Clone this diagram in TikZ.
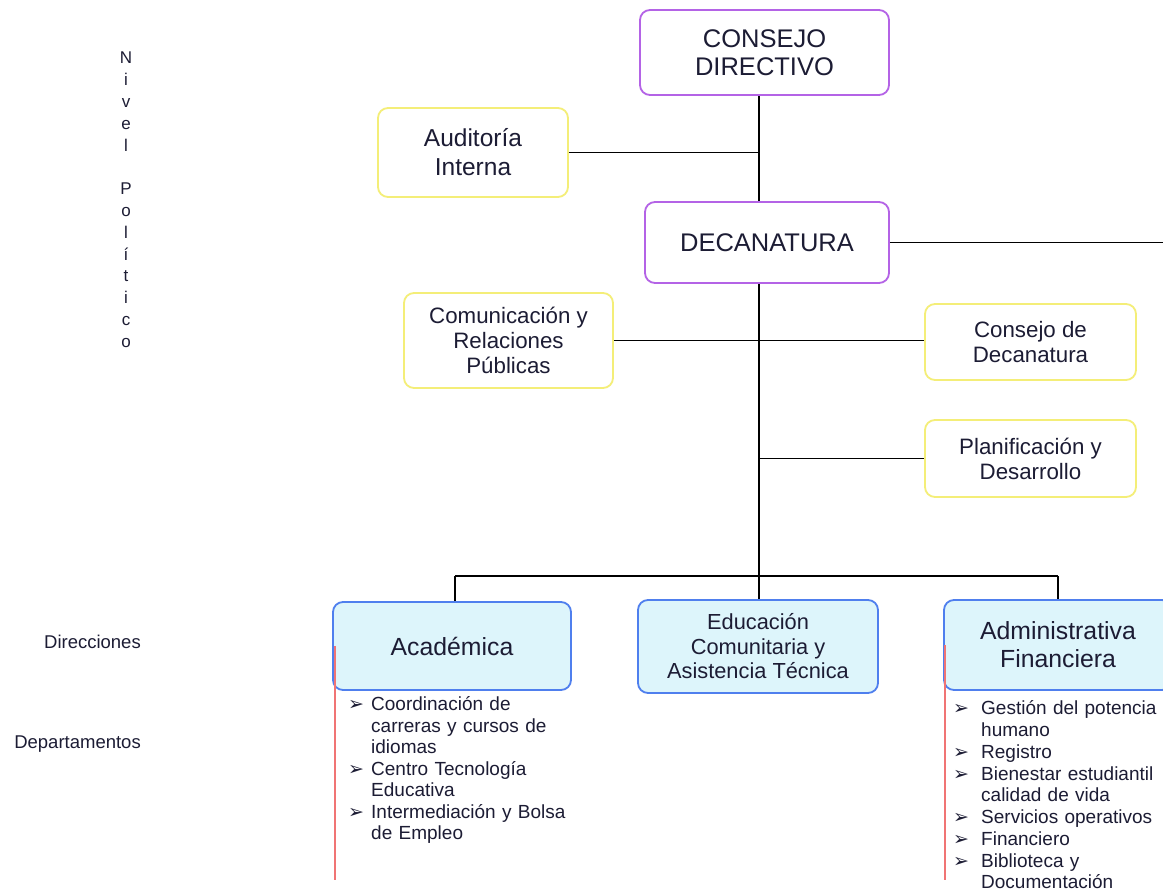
\documentclass[tikz,border=0pt]{standalone}
\usepackage{fontspec}
\setmainfont{Liberation Sans}
\newfontfamily\djv{DejaVu Sans}
\definecolor{txt}{HTML}{1C1C34}
\definecolor{purp}{HTML}{B463E6}
\definecolor{yel}{HTML}{F4EE78}
\definecolor{blu}{HTML}{4F7FEE}
\definecolor{cya}{HTML}{DDF5FB}
\definecolor{redl}{HTML}{F07474}
\newcommand{\arw}{{\djv\fontsize{19}{19}\selectfont ➢}}
\newcommand{\bulA}[1]{\par\hangindent=23pt\hangafter=1\noindent\makebox[23pt][l]{\arw}#1}
\newcommand{\bulB}[1]{\par\hangindent=28pt\hangafter=1\noindent\makebox[28pt][l]{\arw}#1}
\tikzset{
  topbox/.style={draw=purp, line width=1.8pt, rounded corners=10pt, align=center, text=txt},
  staffbox/.style={draw=yel, line width=1.8pt, rounded corners=10pt, align=center, text=txt},
  dirbox/.style={draw=blu, fill=cya, line width=1.8pt, rounded corners=10pt, align=center, text=txt},
  conn/.style={draw=black, line width=1.3pt},
  redline/.style={draw=redl, line width=1.3pt},
  lefttxt/.style={text=txt, inner sep=0pt},
  listtxt/.style={text=txt, inner sep=0pt, anchor=north west, align=left}
}
\begin{document}
\begin{tikzpicture}[x=1pt,y=-1pt]
\clip (0,0) rectangle (1163,891);
\fill[white] (0,0) rectangle (1163,891);

% left labels
\node[lefttxt, anchor=north, align=center, font=\fontsize{17}{21.8}\selectfont] (nivel) at (126,52)
  {N\\i\\v\\e\\l\\[21.8pt]P\\o\\l\\í\\t\\i\\c\\o};
\node[lefttxt, anchor=east, font=\fontsize{18.5}{20}\selectfont] (direc) at (141,642) {Direcciones};
\node[lefttxt, anchor=east, font=\fontsize{18.5}{20}\selectfont] (depto) at (141,744) {Departamentos};

% boxes
\node[topbox, minimum width=249pt, minimum height=85pt, font=\fontsize{25.5}{28}\selectfont] (cd) at (764.5,52.5) {CONSEJO\\DIRECTIVO};
\node[staffbox, minimum width=190pt, minimum height=89pt, font=\fontsize{24.5}{29}\selectfont] (aud) at (473,152.5) {Auditoría\\Interna};
\node[topbox, minimum width=244pt, minimum height=81pt, font=\fontsize{25.5}{28}\selectfont] (dec) at (767,242.5) {DECANATURA};
\node[staffbox, minimum width=209pt, minimum height=95pt, font=\fontsize{22.3}{25}\selectfont] (com) at (508.5,340.5) {Comunicación y\\Relaciones\\Públicas};
\node[staffbox, minimum width=211pt, minimum height=76pt, font=\fontsize{22.3}{25}\selectfont] (cdec) at (1030.5,342) {Consejo de\\Decanatura};
\node[staffbox, minimum width=211pt, minimum height=77pt, font=\fontsize{22.3}{25}\selectfont] (plan) at (1030.5,458.5) {Planificación y\\Desarrollo};

\node[dirbox, minimum width=238pt, minimum height=88pt, font=\fontsize{24.8}{28}\selectfont] (aca) at (452,646) {Académica};
\node[dirbox, minimum width=240pt, minimum height=93pt, font=\fontsize{21.8}{24.5}\selectfont] (edu) at (758,646.5) {Educación\\Comunitaria y\\Asistencia Técnica};
\node[dirbox, minimum width=228pt, minimum height=90pt, font=\fontsize{24.8}{28}\selectfont] (adm) at (1058,645) {Administrativa\\Financiera};

% connector coordinates
\coordinate (sp) at (759,0);
\coordinate (decR) at (1163,242.5);
\coordinate (barM) at (759,576);
\coordinate (barL) at (455,576);
\coordinate (barR) at (1058,576);
\coordinate (acaEnd) at (335,880);
\coordinate (admEnd) at (945,880);

% connectors
\draw[conn] (cd.south -| sp) -- (dec.north -| sp);
\draw[conn] (aud.east) -- (aud.east -| sp);
\draw[conn] (dec.east) -- (decR);
\draw[conn] (com.east) -- (com.east -| cdec.west);
\draw[conn] (plan.west) -- (plan.west -| sp);
\draw[conn] (dec.south -| sp) -- (barM);
\draw[conn] (barL) -- (barR);
\draw[conn] (barL) -- (aca.north -| barL);
\draw[conn] (barM) -- (edu.north -| barM);
\draw[conn] (barR) -- (adm.north -| barR);

% red lines
\draw[redline] (aca.west -| acaEnd) -- (acaEnd);
\draw[redline] (adm.west -| admEnd) -- (admEnd);

% lists
\node[listtxt, text width=240pt, font=\fontsize{19}{21.5}\selectfont] (acal) at (348,689)
{\bulA{Coordinación de\newline carreras y cursos de\newline idiomas}
 \bulA{Centro Tecnología\newline Educativa}
 \bulA{Intermediación y Bolsa\newline de Empleo}\par};
\node[listtxt, text width=260pt, font=\fontsize{19}{21.75}\selectfont] (adml) at (953,693)
{\bulB{Gestión del potencia\newline humano}
 \bulB{Registro}
 \bulB{Bienestar estudiantil\newline calidad de vida}
 \bulB{Servicios operativos}
 \bulB{Financiero}
 \bulB{Biblioteca y\newline Documentación}\par};
\end{tikzpicture}
\end{document}
